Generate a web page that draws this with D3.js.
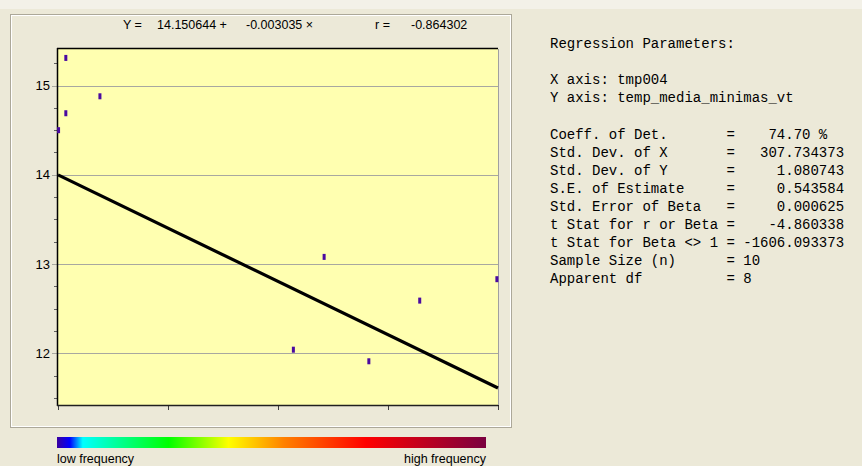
<!DOCTYPE html>
<html><head><meta charset="utf-8">
<script src="https://cdn.jsdelivr.net/npm/d3@7"></script>
<style>html,body{margin:0;padding:0;background:#ece9d8;}svg{display:block;}</style>
</head><body>
<svg id="c" width="862" height="466"></svg>
<script>
// Data
const xValues = [51, 64, 64, 125, 471, 526, 606, 697, 835];
const yValues = [14.50, 15.31, 14.69, 14.88, 12.04, 13.08, 11.91, 12.59, 12.83];
const xDomain = [50, 837];
const yDomain = [11.42, 15.41];
const yTickLabels = [12, 13, 14, 15];
const intercept = 14.150644, slope = -0.003035, rValue = -0.864302;
const paramLines = [
  "Regression Parameters:",
  "",
  "X axis: tmp004",
  "Y axis: temp_media_minimas_vt",
  "",
  "Coeff. of Det.       =    74.70 %",
  "Std. Dev. of X       =   307.734373",
  "Std. Dev. of Y       =     1.080743",
  "S.E. of Estimate     =     0.543584",
  "Std. Error of Beta   =     0.000625",
  "t Stat for r or Beta =    -4.860338",
  "t Stat for Beta <> 1 = -1606.093373",
  "Sample Size (n)      = 10",
  "Apparent df          = 8"
];
const legendStops = [
  [0.00, "#3a00a0"], [0.03, "#0000ff"], [0.06, "#00ffff"], [0.26, "#00ff00"],
  [0.40, "#ffff00"], [0.53, "#ff8000"], [0.72, "#ff0000"], [1.00, "#7a0040"]
];

const svg = d3.select("#c");
const L = 58, R = 498, T = 49, B = 405;
const x = d3.scaleLinear().domain(xDomain).range([L, R]);
const y = d3.scaleLinear().domain(yDomain).range([B, T]);

// top light strip
svg.append("rect").attr("x",0).attr("y",0).attr("width",862).attr("height",9).attr("fill","#f3f1e8");
// panel
svg.append("rect").attr("x",10.5).attr("y",14.5).attr("width",501).attr("height",413)
  .attr("fill","#ece9d8").attr("stroke","#aca899");
svg.append("rect").attr("x",11.5).attr("y",15.5).attr("width",499).attr("height",411)
  .attr("fill","none").attr("stroke","#ffffff");

// plot bg
svg.append("rect").attr("x",L).attr("y",T).attr("width",R-L).attr("height",B-T).attr("fill","#ffffb0");

// gridlines
svg.append("g").selectAll("line").data(yTickLabels).join("line")
  .attr("x1",L-6).attr("x2",R).attr("y1",d=>Math.round(y(d))+0.5).attr("y2",d=>Math.round(y(d))+0.5)
  .attr("stroke","#a8a8a0").attr("stroke-width",1);

// minor ticks
const minor = d3.range(Math.ceil(yDomain[0]*4), Math.floor(yDomain[1]*4)+1).map(v=>v/4).filter(v=>v%1!==0);
svg.append("g").selectAll("line").data(minor).join("line")
  .attr("x1",L-4).attr("x2",L).attr("y1",d=>Math.round(y(d))+0.5).attr("y2",d=>Math.round(y(d))+0.5)
  .attr("stroke","#606060");

// y labels
svg.append("g").selectAll("text").data(yTickLabels).join("text")
  .attr("x",50).attr("y",d=>y(d)+4.5).attr("text-anchor","end")
  .attr("font-family","Liberation Sans, Arial, sans-serif").attr("font-size",13).attr("fill","#000")
  .text(d=>d);

// x ticks
const xt = d3.range(5).map(i => xDomain[0] + i*(xDomain[1]-xDomain[0])/4);
svg.append("g").selectAll("line").data(xt).join("line")
  .attr("x1",d=>Math.round(x(d))+0.5).attr("x2",d=>Math.round(x(d))+0.5).attr("y1",B).attr("y2",B+5)
  .attr("stroke","#404040");

// plot borders
svg.append("line").attr("x1",L-0.5).attr("x2",L-0.5).attr("y1",T-1).attr("y2",B+1).attr("stroke","#000").attr("stroke-width",1.5);
svg.append("line").attr("x1",L-1).attr("x2",R).attr("y1",T-0.5).attr("y2",T-0.5).attr("stroke","#000").attr("stroke-width",1.5);
svg.append("line").attr("x1",L-1).attr("x2",R+1).attr("y1",B+0.5).attr("y2",B+0.5).attr("stroke","#202020").attr("stroke-width",1.5);
svg.append("line").attr("x1",R+0.5).attr("x2",R+0.5).attr("y1",T).attr("y2",B).attr("stroke","#a0a0a0").attr("stroke-width",1);

// regression line
svg.append("line")
  .attr("x1",x(xDomain[0])).attr("y1",y(intercept+slope*xDomain[0]))
  .attr("x2",x(xDomain[1])).attr("y2",y(intercept+slope*xDomain[1]))
  .attr("stroke","#000").attr("stroke-width",3.2);

// points
svg.append("g").selectAll("rect").data(xValues.map((v,i)=>[v,yValues[i]])).join("rect")
  .attr("x",d=>x(d[0])-1.5).attr("y",d=>y(d[1])-3).attr("width",3).attr("height",6)
  .attr("fill","#4a0aa0");

// title
const tf = "Liberation Sans, Arial, sans-serif";
const title = [
  [123, "Y ="], [157, intercept.toFixed(6) + " +"], [246, slope.toFixed(6) + " \u00D7"],
  [375, "r ="], [411, rValue.toFixed(6)]
];
svg.append("g").selectAll("text").data(title).join("text")
  .attr("x",d=>d[0]).attr("y",29).attr("font-family",tf).attr("font-size",12.5).attr("fill","#000")
  .text(d=>d[1]);

// legend
const grad = svg.append("defs").append("linearGradient").attr("id","g1");
grad.selectAll("stop").data(legendStops).join("stop")
  .attr("offset",d=>d[0]).attr("stop-color",d=>d[1]);
svg.append("rect").attr("x",57).attr("y",437).attr("width",429).attr("height",11).attr("fill","url(#g1)");
svg.append("text").attr("x",57).attr("y",463).attr("font-family",tf).attr("font-size",12.5).text("low frequency");
svg.append("text").attr("x",486).attr("y",463).attr("text-anchor","end").attr("font-family",tf).attr("font-size",12.5).text("high frequency");

// parameters
svg.append("g").selectAll("text").data(paramLines).join("text")
  .attr("x",550).attr("y",(d,i)=>48 + i*18.1)
  .attr("font-family","Liberation Mono, Courier New, monospace").attr("font-size",14).attr("fill","#000")
  .attr("xml:space","preserve").style("white-space","pre")
  .text(d=>d);
</script>
</body></html>
